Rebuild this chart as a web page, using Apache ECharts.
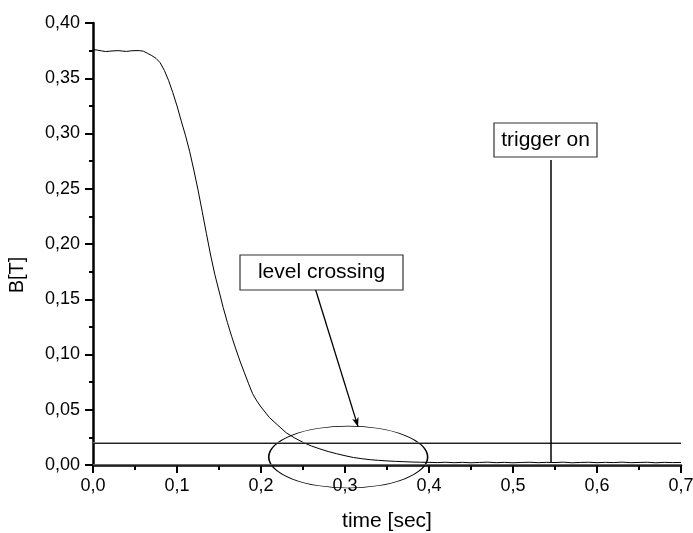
<!DOCTYPE html>
<html><head><meta charset="utf-8">
<script src="https://cdn.jsdelivr.net/npm/echarts@6/dist/echarts.min.js"></script>
<style>html,body{margin:0;padding:0;background:#fff}#c{width:693px;height:533px}</style>
</head><body><div id="c"></div>
<script>
// ---- data ----
const timeSec = [
  0.000,0.005,0.010,0.015,0.020,0.025,0.030,0.035,0.040,0.045,0.050,0.055,0.060,0.065,0.070,0.075,
  0.080,0.085,0.090,0.095,0.100,0.105,0.110,0.115,0.120,0.125,0.130,0.135,0.140,0.145,0.150,0.155,
  0.160,0.165,0.170,0.175,0.180,0.185,0.190,0.195,0.200,0.210,0.220,0.230,0.240,0.250,0.260,0.270,
  0.280,0.290,0.300,0.310,0.320,0.330,0.340,0.350,0.360,0.370,0.380,0.390,0.400,0.410,0.420,0.430,
  0.440,0.450,0.460,0.470,0.480,0.490,0.500,0.510,0.520,0.530,0.540,0.550,0.560,0.570,0.580,0.590,
  0.600,0.610,0.620,0.630,0.640,0.650,0.660,0.670,0.680,0.690,0.700
];
const fieldB = [
  0.3760,0.3755,0.3748,0.3742,0.3745,0.3748,0.3750,0.3746,0.3743,0.3748,0.3750,0.3750,0.3745,0.3725,0.3705,0.3680,
  0.3640,0.3570,0.3480,0.3370,0.3250,0.3115,0.2985,0.2840,0.2670,0.2490,0.2295,0.2095,0.1900,0.1725,0.1575,0.1425,
  0.1290,0.1165,0.1050,0.0940,0.0840,0.0740,0.0645,0.0580,0.0525,0.0430,0.0360,0.0292,0.0245,0.0205,0.0172,0.0146,
  0.0122,0.0102,0.0084,0.0068,0.0057,0.0048,0.0042,0.0037,0.0033,0.0030,0.0027,0.0025,0.0024,0.0022,0.0025,0.0021,
  0.0024,0.0020,0.0023,0.0026,0.0021,0.0024,0.0020,0.0023,0.0025,0.0021,0.0024,0.0022,0.0026,0.0020,0.0023,0.0025,
  0.0021,0.0024,0.0022,0.0026,0.0021,0.0023,0.0025,0.0020,0.0024,0.0022,0.0023
];
const levelLinesB = [0.0198, 0.0172, 0.0037, 0.0023];
const triggerTime = 0.5445;
const triggerSpanB = [0.0028, 0.276];
const triggerLabel = 'trigger on';
const triggerLabelAt = [0.5387, 0.294];
const crossingLabel = 'level crossing';
const crossingLabelAt = [0.272, 0.1742];
const arrowFrom = [0.2651, 0.1584];
const arrowTo = [0.3155, 0.0347];
const ellipseCenter = [0.3038, 0.0072];
const ellipseRadii = [0.0946, 0.028];
const xAxisName = 'time [sec]';
const yAxisName = 'B[T]';
// --------------------------------------

const FONT = 'Liberation Sans, Arial, Helvetica, sans-serif';
const chart = echarts.init(document.getElementById('c'), null, {renderer: 'canvas'});
const fmt = (v, d) => v.toFixed(d).replace('.', ',');
const levelStyles = [
  {color: '#777', width: 1.5}, {color: '#222', width: 1},
  {color: '#777', width: 1.5}, {color: '#222', width: 1}
];

const markData = levelLinesB.map((b, i) => ({yAxis: b, lineStyle: Object.assign({type: 'solid'}, levelStyles[i])}));
markData.push([
  {coord: [triggerTime, triggerSpanB[0]], lineStyle: {color: '#000', width: 1.5, type: 'solid'}},
  {coord: [triggerTime, triggerSpanB[1]]}
]);
markData.push([
  {coord: arrowFrom, symbol: 'none', lineStyle: {color: '#000', width: 1.3, type: 'solid'}},
  {coord: arrowTo, symbol: 'arrow', symbolSize: [5, 9]}
]);

chart.setOption({
  animation: false,
  backgroundColor: '#fff',
  grid: {left: 93, right: 12, top: 23, bottom: 68, containLabel: false, outerBoundsMode: 'none'},
  xAxis: {
    type: 'value', min: 0, max: 0.7, interval: 0.1,
    name: xAxisName, nameLocation: 'middle', nameGap: 46,
    nameTextStyle: {fontFamily: FONT, fontSize: 21, color: '#000'},
    axisLine: {onZero: false, lineStyle: {color: '#000', width: 2.5}},
    axisTick: {length: 8, lineStyle: {color: '#000', width: 2}},
    minorTick: {show: true, splitNumber: 2, length: 5, lineStyle: {color: '#000', width: 2}},
    splitLine: {show: false},
    axisLabel: {margin: 12, fontFamily: FONT, fontSize: 18, color: '#000', formatter: v => fmt(v, 1)}
  },
  yAxis: {
    type: 'value', min: 0, max: 0.4, interval: 0.05,
    name: yAxisName, nameLocation: 'middle', nameGap: 66,
    nameTextStyle: {fontFamily: FONT, fontSize: 20, color: '#000', padding: [0, 62, 0, 0]},
    axisLine: {onZero: false, lineStyle: {color: '#000', width: 2.5}},
    axisTick: {length: 8, lineStyle: {color: '#000', width: 2}},
    minorTick: {show: true, splitNumber: 2, length: 4, lineStyle: {color: '#000', width: 2}},
    splitLine: {show: false},
    axisLabel: {margin: 13, fontFamily: FONT, fontSize: 18, color: '#000', formatter: v => fmt(v, 2)}
  },
  series: [{
    type: 'line',
    data: timeSec.map((t, i) => [t, fieldB[i]]),
    showSymbol: false, symbol: 'none',
    lineStyle: {color: '#000', width: 1},
    silent: true,
    markLine: {
      silent: true, symbol: ['none', 'none'],
      label: {show: false}, emphasis: {disabled: true},
      data: markData
    }
  }]
});

function px(p) { return chart.convertToPixel({gridIndex: 0}, p); }
function box(text, at, w, h) {
  const c = px(at);
  return {
    type: 'group', x: Math.round(c[0] - w / 2), y: Math.round(c[1] - h / 2),
    children: [
      {type: 'rect', shape: {x: 0, y: 0, width: w, height: h},
       style: {fill: '#fff', stroke: '#333', lineWidth: 1.2}},
      {type: 'text', x: w / 2, y: h / 2,
       style: {text: text, font: '21px ' + FONT, fill: '#000', align: 'center', verticalAlign: 'middle'}}
    ]
  };
}
const c0 = px(ellipseCenter);
const cx1 = px([ellipseCenter[0] + ellipseRadii[0], ellipseCenter[1] + ellipseRadii[1]]);
const rx = cx1[0] - c0[0], ry = c0[1] - cx1[1];
chart.setOption({
  graphic: [
    {type: 'circle', x: c0[0], y: c0[1], scaleX: 1, scaleY: ry / rx, shape: {cx: 0, cy: 0, r: rx},
     style: {fill: 'none', stroke: '#000', lineWidth: 1.6, strokeNoScale: true}, silent: true},
    box(crossingLabel, crossingLabelAt, 163, 35),
    box(triggerLabel, triggerLabelAt, 103, 34)
  ]
});
</script></body></html>
